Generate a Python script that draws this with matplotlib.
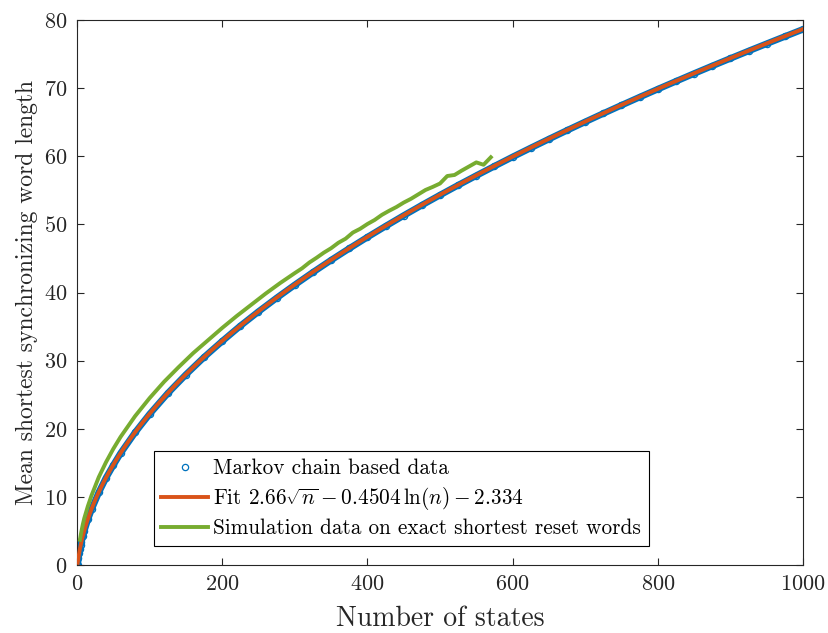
import numpy as np
import matplotlib
matplotlib.use("Agg")
import matplotlib.pyplot as plt

# ---- data ----
markov_n = [1, 2, 3, 4, 5, 6, 8, 10, 15, 20, 30, 40, 50, 60, 80, 100,
            125, 150, 175, 200, 225, 250, 275, 300, 325, 350, 375, 400,
            425, 450, 475, 500, 525, 550, 575, 600, 625, 650, 675, 700,
            725, 750, 775, 800, 825, 850, 875, 900, 925, 950, 975, 1000]
markov_len = [0.0, 1.0, 1.75, 2.35, 2.9, 3.35, 4.2, 5.0, 6.7, 8.15, 10.65, 12.8,
              14.65, 16.4, 19.45, 22.15, 25.2, 27.95, 30.5, 32.85, 35.1, 37.2,
              39.2, 41.12, 42.97, 44.75, 46.46, 48.12, 49.73, 51.3, 52.82, 54.3,
              55.75, 57.16, 58.54, 59.9, 61.22, 62.52, 63.8, 65.05, 66.28, 67.49,
              68.68, 69.85, 71.0, 72.14, 73.26, 74.36, 75.45, 76.52, 77.58, 78.63]

fit_a, fit_b, fit_c = 2.66, 0.4504, 2.334   # fit coefficients shown in legend
fit_n_min, fit_n_max = 1, 1000

sim_n = [4, 6, 8, 10, 15, 20, 30, 40, 50, 60, 80, 100, 120, 140, 160, 180,
         200, 220, 240, 260, 280, 300, 310, 320, 330, 340, 350, 360, 370, 380,
         390, 400, 410, 420, 430, 440, 450, 460, 470, 480, 490, 500, 510, 520,
         530, 540, 550, 560, 570]
sim_len = [3.7, 4.9, 5.95, 6.85, 8.65, 10.2, 12.9, 15.1, 17.05, 18.8, 21.85,
           24.5, 26.9, 29.05, 31.1, 32.95, 34.8, 36.55, 38.2, 39.85, 41.4,
           42.85, 43.55, 44.4, 45.1, 45.85, 46.5, 47.3, 47.9, 48.8, 49.35, 50.05,
           50.65, 51.4, 52.0, 52.55, 53.2, 53.75, 54.4, 55.05, 55.5, 56.0, 57.1,
           57.25, 57.9, 58.5, 59.1, 58.75, 59.85]

x_ticks = [0, 200, 400, 600, 800, 1000]
y_ticks = [0, 10, 20, 30, 40, 50, 60, 70, 80]

# ---- style ----
plt.rcParams['font.family'] = 'serif'
plt.rcParams['font.serif'] = ['cmr10', 'DejaVu Serif']
plt.rcParams['mathtext.fontset'] = 'cm'
plt.rcParams['axes.formatter.use_mathtext'] = True

blue = '#0072BD'
orange = '#D95319'
green = '#77AC30'
axcol = '#262626'

fig = plt.figure(figsize=(8.29, 6.33), dpi=100)
ax = fig.add_axes([77/829, 1 - 565/633, 726/829, 545/633])

# Markov chain data (dense band + open circle markers)
ax.plot(markov_n, markov_len, '-', color=blue, lw=4.8, solid_capstyle='round', zorder=2)
ax.plot(markov_n, markov_len, 'o', color=blue, mfc='none', mew=0.9, ms=4.5,
        label='Markov chain based data', zorder=2)

fit_x = np.arange(fit_n_min, fit_n_max + 1)
fit_y = fit_a * np.sqrt(fit_x) - fit_b * np.log(fit_x) - fit_c
ax.plot(fit_x, fit_y, '-', color=orange, lw=2.8, zorder=3,
        label=r'Fit $2.66\sqrt{n}-0.4504\,\ln(n)-2.334$')

ax.plot(sim_n, sim_len, '-', color=green, lw=2.8, zorder=4,
        label='Simulation data on exact shortest reset words')

ax.set_xlim(0, 1000)
ax.set_ylim(0, 80)
ax.set_xticks(x_ticks)
ax.set_yticks(y_ticks)
ax.tick_params(direction='in', length=5, width=0.8, colors=axcol,
               labelsize=16, top=True, right=True, pad=7)
ax.tick_params(axis='x', pad=7)
for s in ax.spines.values():
    s.set_color(axcol)
    s.set_linewidth(0.8)

ax.set_xlabel('Number of states', fontsize=20, color=axcol, labelpad=8)
ax.set_ylabel('Mean shortest synchronizing word length', fontsize=17, color=axcol, labelpad=4)

leg = ax.legend(loc='lower left', bbox_to_anchor=(0.106, 0.035), fontsize=15.3,
                frameon=True, fancybox=False, framealpha=1, edgecolor='black',
                handlelength=2.2, handletextpad=0.25, borderpad=0.35,
                labelspacing=0.32, borderaxespad=0)
leg.get_frame().set_linewidth(0.8)

fig.savefig('out.png', dpi=100)
